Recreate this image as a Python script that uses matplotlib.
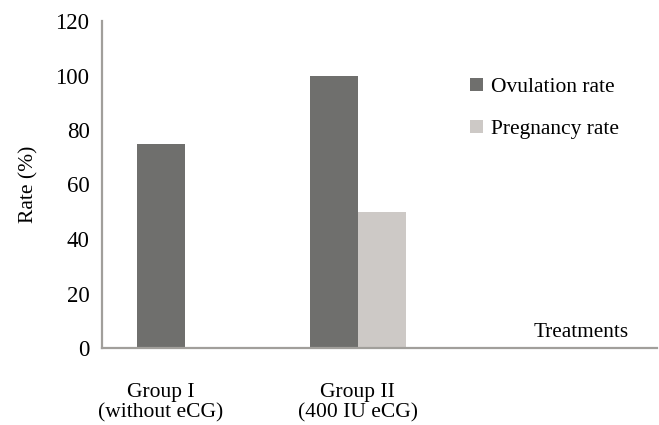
import matplotlib
matplotlib.use("Agg")
import matplotlib.pyplot as plt
from matplotlib.patches import Patch
import numpy as np

categories = ["Group I\n(without eCG)", "Group II\n(400 IU eCG)"]
series_names = ["Ovulation rate", "Pregnancy rate"]
ovulation = [75, 100]
pregnancy = [0, 50]
yticks = [0, 20, 40, 60, 80, 100, 120]

colors = ["#6f6f6d", "#cdc9c6"]
axis_color = "#a19f9b"

plt.rcParams['font.family'] = ['Liberation Serif', 'DejaVu Serif']
fig = plt.figure(figsize=(6.59, 4.25), dpi=100)
ax = fig.add_axes([102/659, 1-348/425, 555/659, 327/425])

width = 0.245
x = np.arange(len(categories))
data = [ovulation, pregnancy]
for i in range(len(categories)):
    vals = [d[i] for d in data]
    visible = [k for k, v in enumerate(vals) if v > 0]
    n = len(visible)
    for j, k in enumerate(visible):
        pos = x[i] + (j - (n - 1) / 2) * width
        ax.bar(pos, vals[k], width=width, color=colors[k], linewidth=0)

ax.set_xlim(-0.30, 2.52)
ax.set_ylim(0, 120)
ax.set_yticks(yticks)
ax.set_xticks(x)
ax.set_xticklabels(categories, fontsize=15.5, linespacing=1.1)
ax.tick_params(axis='y', length=0, pad=9, labelsize=16.5)
ax.tick_params(axis='x', length=0, pad=25)
for s in ["top", "right"]:
    ax.spines[s].set_visible(False)
for s in ["left", "bottom"]:
    ax.spines[s].set_color(axis_color)
    ax.spines[s].set_linewidth(1.6)
ax.set_ylabel("Rate (%)", fontsize=15.5, labelpad=12)
ax.text(0.863, 0.034, "Treatments", transform=ax.transAxes, ha="center",
        va="baseline", fontsize=15.3)

handles = [Patch(facecolor=c, edgecolor='none') for c in colors]
ax.legend(handles, series_names, loc="upper left", frameon=False,
          bbox_to_anchor=((461-102)/555, (348-69)/327), fontsize=15.5,
          handlelength=0.6, handleheight=0.6, handletextpad=0.4,
          labelspacing=1.05, borderaxespad=0)

fig.savefig("out.png", dpi=100)
